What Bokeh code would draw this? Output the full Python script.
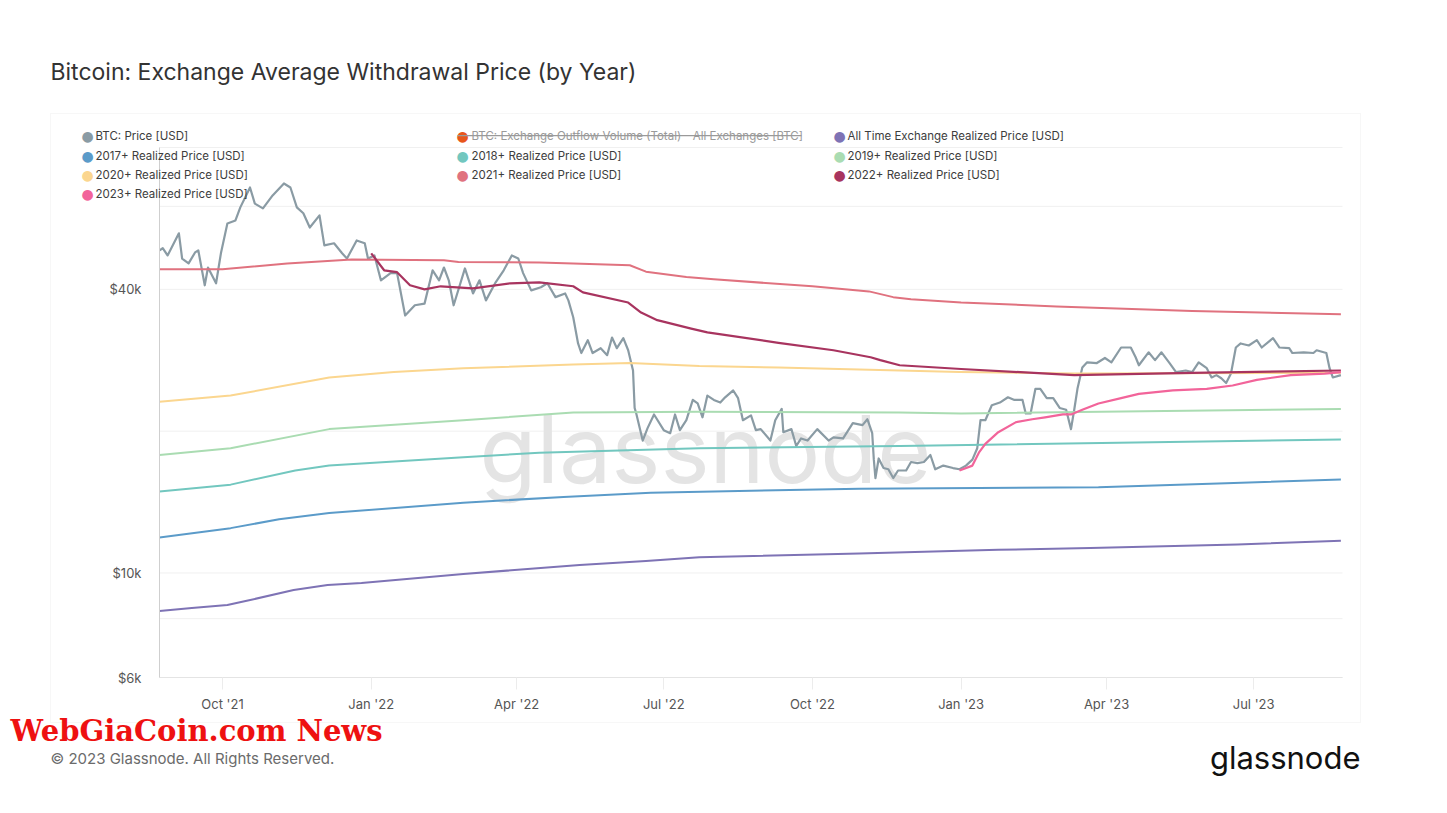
import math
import pandas as pd
from bokeh.plotting import figure
from bokeh.models import (FixedTicker, Label, BoxAnnotation, Range1d, LogAxis, DatetimeAxis,
                          LogScale, LinearScale)
from bokeh.embed import file_html
from bokeh.resources import INLINE

# ---------------- data ----------------
price_dates = [
    "2021-08-23", "2021-08-25", "2021-08-28", "2021-09-04", "2021-09-06", "2021-09-10", "2021-09-14",
    "2021-09-16", "2021-09-20", "2021-09-22", "2021-09-27", "2021-09-30", "2021-10-04", "2021-10-09",
    "2021-10-12", "2021-10-18", "2021-10-21", "2021-10-26", "2021-11-01", "2021-11-08", "2021-11-12",
    "2021-11-16", "2021-11-20", "2021-11-24", "2021-11-30", "2021-12-03", "2021-12-09", "2021-12-14",
    "2021-12-17", "2021-12-23", "2021-12-28", "2021-12-30", "2022-01-03", "2022-01-07", "2022-01-13",
    "2022-01-17", "2022-01-22", "2022-01-28", "2022-02-03", "2022-02-08", "2022-02-12", "2022-02-15",
    "2022-02-18", "2022-02-21", "2022-02-28", "2022-03-05", "2022-03-09", "2022-03-13", "2022-03-19",
    "2022-03-24", "2022-03-29", "2022-04-02", "2022-04-05", "2022-04-10", "2022-04-16", "2022-04-20",
    "2022-04-25", "2022-05-01", "2022-05-03", "2022-05-06", "2022-05-09", "2022-05-11", "2022-05-15",
    "2022-05-18", "2022-05-23", "2022-05-27", "2022-05-30", "2022-06-02", "2022-06-06", "2022-06-09",
    "2022-06-12", "2022-06-13", "2022-06-14", "2022-06-18", "2022-06-21", "2022-06-25", "2022-07-01",
    "2022-07-05", "2022-07-08", "2022-07-11", "2022-07-15", "2022-07-19", "2022-07-22", "2022-07-25",
    "2022-07-28", "2022-08-01", "2022-08-05", "2022-08-08", "2022-08-13", "2022-08-16", "2022-08-19",
    "2022-08-24", "2022-08-27", "2022-08-30", "2022-09-05", "2022-09-08", "2022-09-12", "2022-09-13",
    "2022-09-18", "2022-09-21", "2022-09-24", "2022-09-28", "2022-10-04", "2022-10-11", "2022-10-14",
    "2022-10-20", "2022-10-26", "2022-11-01", "2022-11-04", "2022-11-07", "2022-11-08", "2022-11-09",
    "2022-11-11", "2022-11-14", "2022-11-17", "2022-11-20", "2022-11-23", "2022-11-28", "2022-12-01",
    "2022-12-05", "2022-12-09", "2022-12-13", "2022-12-16", "2022-12-21", "2022-12-27", "2022-12-31",
    "2023-01-04", "2023-01-08", "2023-01-11", "2023-01-13", "2023-01-16", "2023-01-20", "2023-01-25",
    "2023-01-30", "2023-02-03", "2023-02-08", "2023-02-10", "2023-02-13", "2023-02-16", "2023-02-19",
    "2023-02-23", "2023-02-27", "2023-03-03", "2023-03-07", "2023-03-10", "2023-03-12", "2023-03-14",
    "2023-03-17", "2023-03-20", "2023-03-26", "2023-03-31", "2023-04-04", "2023-04-10", "2023-04-16",
    "2023-04-19", "2023-04-21", "2023-04-27", "2023-05-01", "2023-05-05", "2023-05-10", "2023-05-14",
    "2023-05-20", "2023-05-24", "2023-05-28", "2023-06-02", "2023-06-05", "2023-06-08", "2023-06-11",
    "2023-06-14", "2023-06-17", "2023-06-20", "2023-06-23", "2023-06-28", "2023-07-03", "2023-07-06",
    "2023-07-13", "2023-07-17", "2023-07-23", "2023-07-25", "2023-08-01", "2023-08-07", "2023-08-09",
    "2023-08-15", "2023-08-17", "2023-08-19", "2023-08-24",
]
price_usd = [
    48400, 48900, 47200, 52600, 46500, 45400, 47900,
    48400, 40800, 44500, 41200, 47700, 55200, 56000,
    59700, 65800, 60800, 59400, 63300, 67100, 65800,
    59700, 58000, 54100, 57400, 49600, 50100, 47700,
    46500, 50800, 50100, 46500, 47200, 41800, 43300,
    43300, 35200, 37000, 37300, 43900, 41800, 44500,
    41800, 37000, 44300, 39200, 41800, 37900, 41400,
    43900, 47200, 46500, 43300, 39800, 40400, 41200,
    38500, 39200, 37900, 34900, 30700, 29300, 31200,
    29300, 30000, 29000, 31600, 30000, 31500, 29700,
    26900, 22400, 21800, 19100, 20300, 21700, 20100,
    19800, 21700, 20100, 21100, 23300, 22900, 21400,
    23800, 23300, 23000, 23600, 24400, 23500, 21100,
    21600, 20100, 20200, 19100, 21100, 22300, 19900,
    20200, 18600, 19300, 19100, 20200, 19100, 19400,
    19300, 20800, 20600, 21200, 19800, 17400, 15900,
    17500, 16700, 16600, 15900, 16500, 16500, 17200,
    17100, 17200, 17800, 16600, 16900, 16700, 16600,
    16900, 17400, 18400, 21100, 21100, 22700, 23000,
    23600, 23300, 23300, 21800, 21800, 24600, 24600,
    23500, 23500, 22400, 22200, 20200, 22200, 24600,
    27300, 28000, 27900, 28600, 28000, 30100, 30100,
    28700, 27600, 29400, 28300, 29400, 27900, 26700,
    26900, 26700, 28000, 27200, 26000, 26300, 25900,
    25300, 26500, 30100, 30700, 30400, 31200, 30100,
    31500, 30100, 30000, 29300, 29400, 29300, 29700,
    29300, 27200, 26000, 26300,
]

alltime_dates = ["2021-08-23", "2021-09-12", "2021-10-04", "2021-10-16", "2021-11-14", "2021-12-05",
                 "2021-12-26", "2022-02-27", "2022-05-10", "2022-06-20", "2022-07-23", "2022-10-30",
                 "2023-01-24", "2023-03-22", "2023-06-21", "2023-08-24"]
alltime_usd = [8300, 8430, 8550, 8730, 9200, 9430, 9520, 9950, 10400, 10600, 10800, 11000,
               11200, 11300, 11500, 11700]

r2017_dates = ["2021-08-23", "2021-10-06", "2021-11-05", "2021-12-06", "2022-02-27", "2022-04-30",
               "2022-06-23", "2022-10-30", "2023-03-27", "2023-06-14", "2023-08-24"]
r2017_usd = [11900, 12450, 13000, 13400, 14100, 14500, 14800, 15100, 15200, 15500, 15800]

r2018_dates = ["2021-08-23", "2021-10-06", "2021-11-15", "2021-12-06", "2022-02-27", "2022-04-15",
               "2022-07-23", "2022-11-24", "2023-08-24"]
r2018_usd = [14900, 15400, 16500, 16900, 17600, 18000, 18400, 18600, 19200]

r2019_dates = ["2021-08-23", "2021-10-06", "2021-12-06", "2022-02-27", "2022-05-06", "2022-07-23",
               "2022-11-24", "2023-01-01", "2023-08-24"]
r2019_usd = [17800, 18400, 20200, 21100, 21900, 22000, 21900, 21800, 22300]

r2020_dates = ["2021-08-23", "2021-10-06", "2021-12-06", "2022-01-15", "2022-02-27", "2022-05-06",
               "2022-06-10", "2022-07-23", "2022-09-10", "2022-11-24", "2022-12-31", "2023-03-12", "2023-08-24"]
r2020_usd = [23100, 23800, 26000, 26700, 27200, 27700, 27900, 27500, 27300, 26900, 26700, 26500, 26600]

r2021_dates = ["2021-08-23", "2021-10-01", "2021-11-10", "2021-12-20", "2022-02-15", "2022-02-24",
               "2022-04-15", "2022-05-06", "2022-06-10", "2022-06-20", "2022-07-15", "2022-08-01",
               "2022-10-01", "2022-11-05", "2022-11-20", "2022-12-01", "2023-01-01", "2023-03-01",
               "2023-05-24", "2023-08-24"]
r2021_usd = [44100, 44100, 45400, 46300, 46100, 45700, 45600, 45400, 45000, 43600, 42500, 42000,
             40600, 39600, 38500, 38100, 37500, 36800, 36000, 35400]

r2022_dates = ["2022-01-01", "2022-01-09", "2022-01-17", "2022-01-25", "2022-02-03", "2022-02-13",
               "2022-03-05", "2022-03-28", "2022-04-15", "2022-05-06", "2022-05-12", "2022-06-09",
               "2022-06-17", "2022-06-27", "2022-07-18", "2022-07-28", "2022-09-10", "2022-10-14",
               "2022-11-06", "2022-11-12", "2022-11-24", "2023-01-01", "2023-03-12", "2023-05-24", "2023-08-24"]
r2022_usd = [47700, 43900, 43500, 40800, 40000, 40600, 40200, 41200, 41400, 40600, 39400, 37500,
             35700, 34400, 33000, 32400, 30800, 29700, 28700, 28300, 27600, 27100, 26300, 26600, 26900]

r2023_dates = ["2022-12-31", "2023-01-08", "2023-01-12", "2023-01-16", "2023-01-24", "2023-02-04",
               "2023-02-14", "2023-02-22", "2023-03-05", "2023-03-10", "2023-03-17", "2023-03-27",
               "2023-04-10", "2023-04-21", "2023-05-12", "2023-06-02", "2023-06-18", "2023-07-03",
               "2023-07-24", "2023-08-14", "2023-08-24"]
r2023_usd = [16500, 16900, 18000, 18800, 19900, 20900, 21200, 21400, 21700, 21700, 22200, 22900,
             23500, 24000, 24400, 24600, 25000, 25700, 26300, 26500, 26700]

legend_labels = [
    "BTC: Price [USD]",
    "BTC: Exchange Outflow Volume (Total) - All Exchanges [BTC]",
    "All Time Exchange Realized Price [USD]",
    "2017+ Realized Price [USD]",
    "2018+ Realized Price [USD]",
    "2019+ Realized Price [USD]",
    "2020+ Realized Price [USD]",
    "2021+ Realized Price [USD]",
    "2022+ Realized Price [USD]",
    "2023+ Realized Price [USD]",
]
legend_colors = ["#8a9ba4", "#e8561b", "#7e73b5", "#5b9bc9", "#72c7bf", "#aadcb2",
                 "#fbd68f", "#e0727f", "#a8345f", "#f2649a"]

x_tick_dates = ["2021-10-01", "2022-01-01", "2022-04-01", "2022-07-01", "2022-10-01",
                "2023-01-01", "2023-04-01", "2023-07-01"]
x_tick_labels = ["Oct '21", "Jan '22", "Apr '22", "Jul '22", "Oct '22", "Jan '23", "Apr '23", "Jul '23"]

y_grid_values = [6000, 8000, 10000, 20000, 40000, 60000, 80000]
y_tick_labels = {6000: "$6k", 10000: "$10k", 40000: "$40k"}

x_start, x_end = "2021-08-23", "2023-08-25"
y_start, y_end = 6000, 80000

title_text = "Bitcoin: Exchange Average Withdrawal Price (by Year)"
footer_text = "\u00a9 2023 Glassnode. All Rights Reserved."

# ---------------- layout constants (page pixels) ----------------
W, H = 1447, 813
FL, FR, FT, FB = 159, 1342, 147, 677  # plot area box on the page


def ms(d):
    return pd.Timestamp(d).value / 1e6


# the figure frame covers the whole page; the ranges are widened so that
# the data domain lands in the plot-area box
xs, xe = ms(x_start), ms(x_end)
ms_per_px = (xe - xs) / (FR - FL)
xr = Range1d(xs - FL * ms_per_px, xe + (W - FR) * ms_per_px)
ls, le = math.log10(y_start), math.log10(y_end)
dec_per_px = (le - ls) / (FB - FT)
yr = Range1d(10 ** (ls - (H - FB) * dec_per_px), 10 ** (le + FT * dec_per_px))

p = figure(width=W, height=H, x_range=xr, y_range=yr,
           x_axis_location=None, y_axis_location=None,
           output_backend="svg", toolbar_location=None,
           min_border_left=0, min_border_right=0, min_border_top=0, min_border_bottom=0)
p.x_scale = LinearScale()
p.y_scale = LogScale()
p.outline_line_color = None
p.background_fill_color = "white"
p.border_fill_color = "white"
p.grid.visible = False


def sx(px):
    return px


def sy(py):
    return H - py


# chart box
p.add_layout(BoxAnnotation(left=sx(50), right=sx(1360), top=sy(113), bottom=sy(722),
                           left_units="screen", right_units="screen", top_units="screen", bottom_units="screen",
                           fill_alpha=0, line_color="#e6e6e6", line_width=1, level="underlay"))

# horizontal grid lines across the plot area
p.segment(x0=[pd.Timestamp(x_start)] * len(y_grid_values), x1=[pd.Timestamp(x_end)] * len(y_grid_values),
          y0=y_grid_values, y1=y_grid_values, line_color="#f0f0f0", line_width=1, level="underlay")

# glassnode watermark in plot
p.add_layout(Label(x=sx(705), y=sy(448), x_units="screen", y_units="screen", text="glassnode",
                   text_font="Inter", text_font_size="93px", text_color="#e4e4e4",
                   text_align="center", text_baseline="alphabetic", level="underlay"))

# series
series = [
    (price_dates, price_usd, legend_colors[0], 2.2),
    (alltime_dates, alltime_usd, legend_colors[2], 2.0),
    (r2017_dates, r2017_usd, legend_colors[3], 2.0),
    (r2018_dates, r2018_usd, legend_colors[4], 2.0),
    (r2019_dates, r2019_usd, legend_colors[5], 2.0),
    (r2020_dates, r2020_usd, legend_colors[6], 2.0),
    (r2021_dates, r2021_usd, legend_colors[7], 2.0),
    (r2022_dates, r2022_usd, legend_colors[8], 2.2),
    (r2023_dates, r2023_usd, legend_colors[9], 2.2),
]
for d, v, c, w in series:
    p.line(pd.to_datetime(d), v, line_color=c, line_width=w, line_join="round")

# axes, pinned at the edges of the data domain
tick_ms = [ms(t) for t in x_tick_dates]
xaxis = DatetimeAxis(fixed_location=y_start, bounds=(xs, xe),
                     ticker=FixedTicker(ticks=tick_ms),
                     major_label_overrides={t: l for t, l in zip(tick_ms, x_tick_labels)})
xaxis.minor_tick_line_color = None
xaxis.major_tick_in = 0
xaxis.major_tick_out = 12
xaxis.major_tick_line_color = "#ececec"
xaxis.axis_line_color = "#e4e4e4"
xaxis.major_label_standoff = 6
xaxis.major_label_text_font = "Inter"
xaxis.major_label_text_font_size = "13px"
xaxis.major_label_text_color = "#555555"
p.add_layout(xaxis, "below")

yaxis = LogAxis(fixed_location=xs, bounds=(y_start, y_end),
                ticker=FixedTicker(ticks=y_grid_values),
                major_label_overrides={k: y_tick_labels.get(k, "") for k in y_grid_values})
yaxis.minor_tick_line_color = None
yaxis.major_tick_line_color = None
yaxis.major_tick_in = 0
yaxis.major_tick_out = 0
yaxis.axis_line_color = "#cfcfcf"
yaxis.major_label_standoff = 18
yaxis.major_label_text_font = "Inter"
yaxis.major_label_text_font_size = "13px"
yaxis.major_label_text_color = "#555555"
yaxis.major_label_text_baseline = "alphabetic"
p.add_layout(yaxis, "left")

# title, footer, logo, watermark
p.add_layout(Label(x=sx(50), y=sy(71), x_units="screen", y_units="screen", text=title_text,
                   text_font="Inter", text_font_size="23px", text_color="#333333",
                   text_baseline="middle"))
p.add_layout(Label(x=sx(50), y=sy(758), x_units="screen", y_units="screen", text=footer_text,
                   text_font="Inter", text_font_size="15px", text_color="#6b6b6b",
                   text_baseline="middle"))
p.add_layout(Label(x=sx(1360), y=sy(757), x_units="screen", y_units="screen", text="glassnode",
                   text_font="Inter", text_font_size="31px", text_color="#111111",
                   text_align="right", text_baseline="middle"))
p.add_layout(Label(x=sx(10), y=sy(730), x_units="screen", y_units="screen", text="WebGiaCoin.com News",
                   text_font="DejaVu Serif", text_font_style="bold", text_font_size="29px",
                   text_color="#ee1111", text_baseline="middle"))

# legend (manual, 3 columns)
col_dot = [87, 462, 839]
col_txt = [95, 471, 847]
row_y = [135, 155, 174, 193]
for i, (lab, col) in enumerate(zip(legend_labels, legend_colors)):
    r, c = divmod(i, 3)
    struck = (i == 1)
    p.add_layout(Label(x=sx(col_dot[c]), y=sy(row_y[r]), x_units="screen", y_units="screen",
                       text="\u25cf", text_font="DejaVu Sans", text_font_size="14px",
                       text_color=col, text_align="center", text_baseline="middle"))
    p.add_layout(Label(x=sx(col_txt[c]), y=sy(row_y[r]), x_units="screen", y_units="screen",
                       text=lab, text_font="Inter", text_font_size="11.5px",
                       text_color="#9a9a9a" if struck else "#3d3d3d", text_baseline="middle"))
    if struck:
        p.add_layout(BoxAnnotation(left=sx(col_dot[c] - 5), right=sx(801), top=sy(row_y[r] - 0.5),
                                   bottom=sy(row_y[r] + 0.7),
                                   left_units="screen", right_units="screen", top_units="screen",
                                   bottom_units="screen", fill_color="#9a9a9a", fill_alpha=1,
                                   line_alpha=0))

open("out.html", "w").write(file_html(p, INLINE))
